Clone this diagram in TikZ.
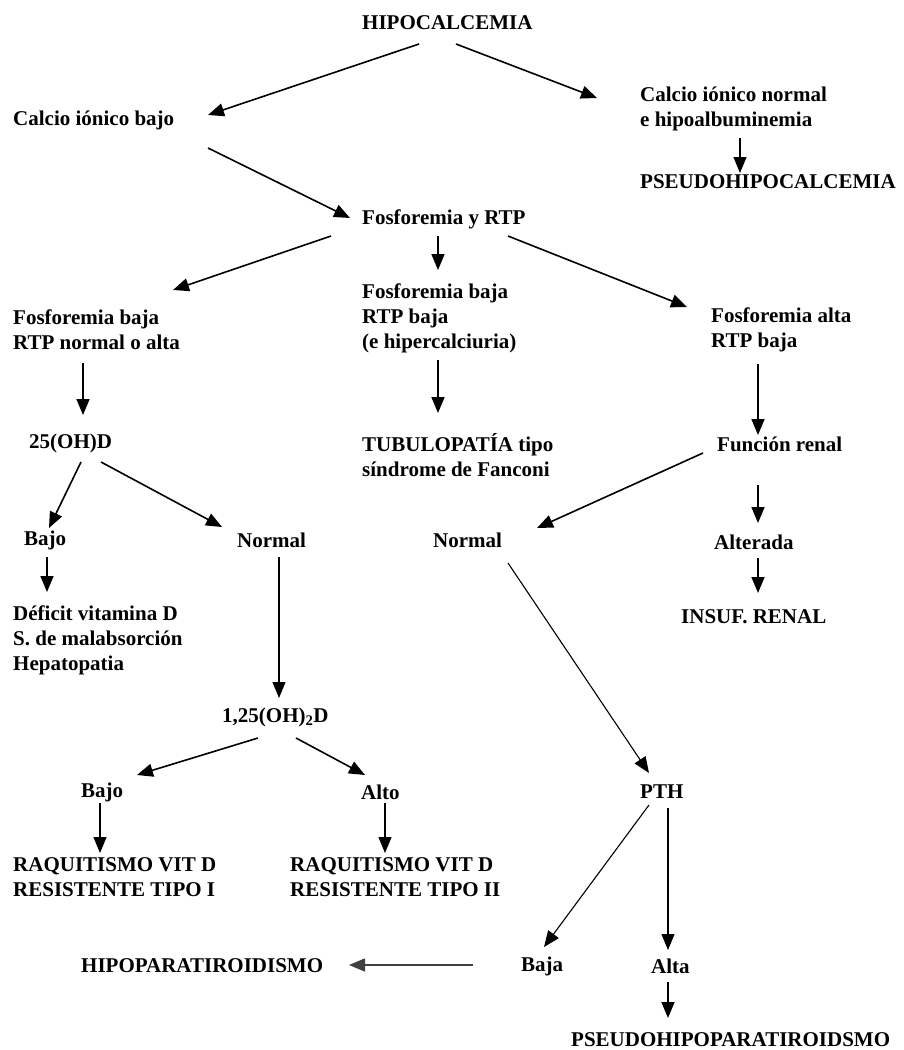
\documentclass[tikz,border=0pt]{standalone}
\usepackage{fontspec}
\setmainfont{Liberation Serif}
\usetikzlibrary{calc}
\usetikzlibrary{arrows.meta}

\begin{document}
\begin{tikzpicture}[x=1pt, y=-1pt,
    lbl/.style={anchor=west, inner sep=0pt, align=left,
        font=\fontsize{21}{25}\selectfont\bfseries},
    arr/.style={-{Triangle[length=16pt,width=13pt]}, line width=1.6pt},
    arrthin/.style={-{Triangle[length=16pt,width=13pt]}, line width=1.1pt}]

    % page frame
    \useasboundingbox (0,0) rectangle (903,1050);
    \fill[white] (0,0) rectangle (903,1050);

    % top levels
    \node[lbl] (hipo) at (362,23) {HIPOCALCEMIA};
    \node[lbl] (cibajo) at (13,120) {Calcio iónico bajo};
    \node[lbl] (cinorm) at (640,109) {Calcio iónico normal\\e hipoalbuminemia};
    \node[lbl] (pseudocal) at (640,182) {PSEUDOHIPOCALCEMIA};
    \node[lbl] (fosrtp) at (362,219) {Fosforemia y RTP};

    % phosphate branches
    \node[lbl] (fbrn) at (13,330) {Fosforemia baja\\RTP normal o alta};
    \node[lbl] (fbrb) at (362,318) {Fosforemia baja\\RTP baja\\(e hipercalciuria)};
    \node[lbl] (farb) at (711,330) {Fosforemia alta\\RTP baja};
    \node[lbl] (ohd) at (29,443) {25(OH)D};
    \node[lbl] (tubulo) at (362,455) {TUBULOPATÍA tipo\\síndrome de Fanconi};
    \node[lbl] (funren) at (717,444) {Función renal};

    % third level
    \node[lbl] (bajoA) at (24,540) {Bajo};
    \node[lbl] (normalA) at (237,540) {Normal};
    \node[lbl] (normalB) at (433,540) {Normal};
    \node[lbl] (alterada) at (714,542) {Alterada};
    \node[lbl] (deficit) at (13,640) {Déficit vitamina D\\S. de malabsorción\\Hepatopatia};
    \node[lbl] (insuf) at (681,617) {INSUF. RENAL};

    % lower levels
    \node[lbl] (dihid) at (222,717) {1,25(OH)\textsubscript{2}D};
    \node[lbl] (bajoB) at (81,792) {Bajo};
    \node[lbl] (alto) at (361,792) {Alto};
    \node[lbl] (pth) at (640,792) {PTH};
    \node[lbl] (raqI) at (13,877) {RAQUITISMO VIT D\\RESISTENTE TIPO I};
    \node[lbl] (raqII) at (290,877) {RAQUITISMO VIT D\\RESISTENTE TIPO II};
    \node[lbl] (baja) at (521,966) {Baja};
    \node[lbl] (alta) at (651,966) {Alta};
    \node[lbl] (hipopara) at (81,966) {HIPOPARATIROIDISMO};
    \node[lbl] (pseudopara) at (571,1040) {PSEUDOHIPOPARATIROIDSMO};

    % arrows, offsets from west anchors
    \draw[arr] ($(hipo.west)+(57,21)$) -- ($(cibajo.west)+(195,-5)$);
    \draw[arr] ($(hipo.west)+(94,21)$) -- ($(cinorm.west)+(-43,-11)$);
    \draw[arrthin] ($(cinorm.west)+(100,29)$) -- ($(pseudocal.west)+(100,-9)$);
    \draw[arr] ($(cibajo.west)+(195,28)$) -- ($(fosrtp.west)+(-12,-1)$);

    \draw[arr] ($(fosrtp.west)+(-31,17)$) -- ($(fbrn.west)+(160,-40)$);
    \draw[arr] ($(fosrtp.west)+(76,17)$) -- ($(fbrb.west)+(76,-48)$);
    \draw[arr] ($(fosrtp.west)+(146,17)$) -- ($(farb.west)+(-24,-23)$);

    \draw[arr] ($(fbrn.west)+(70,33)$) -- ($(ohd.west)+(54,-28)$);
    \draw[arr] ($(fbrb.west)+(76,42)$) -- ($(tubulo.west)+(76,-42)$);
    \draw[arr] ($(farb.west)+(47,34)$) -- ($(funren.west)+(41,-9)$);

    \draw[arr] ($(ohd.west)+(52,19)$) -- ($(bajoA.west)+(25,-12)$);
    \draw[arr] ($(ohd.west)+(72,19)$) -- ($(normalA.west)+(-15,-13)$);
    \draw[arr] ($(funren.west)+(-14,9)$) -- ($(normalB.west)+(104,-12)$);
    \draw[arr] ($(funren.west)+(41,41)$) -- ($(alterada.west)+(44,-19)$);

    \draw[arr] ($(bajoA.west)+(23,17)$) -- ($(deficit.west)+(34,-48)$);
    \draw[arrthin] ($(normalA.west)+(42,17)$) -- ($(dihid.west)+(57,-19)$);
    \draw[arr] ($(alterada.west)+(44,16)$) -- ($(insuf.west)+(77,-24)$);
    \draw[arrthin] ($(normalB.west)+(75,23)$) -- ($(pth.west)+(9,-19)$);

    \draw[arr] ($(dihid.west)+(36,21)$) -- ($(bajoB.west)+(56,-17)$);
    \draw[arr] ($(dihid.west)+(74,21)$) -- ($(alto.west)+(4,-17)$);
    \draw[arrthin] ($(bajoB.west)+(19,11)$) -- ($(raqI.west)+(87,-24)$);
    \draw[arrthin] ($(alto.west)+(24,11)$) -- ($(raqII.west)+(95,-24)$);

    \draw[arrthin] ($(pth.west)+(9,13)$) -- ($(baja.west)+(23,-19)$);
    \draw[arrthin] ($(pth.west)+(28,16)$) -- ($(alta.west)+(17,-16)$);
    \draw[arr, draw=black!75] ($(baja.west)+(-48,-1)$) -- ($(hipopara.west)+(268,-1)$);
    \draw[arr] ($(alta.west)+(17,16)$) -- ($(pseudopara.west)+(97,-22)$);

\end{tikzpicture}
\end{document}
